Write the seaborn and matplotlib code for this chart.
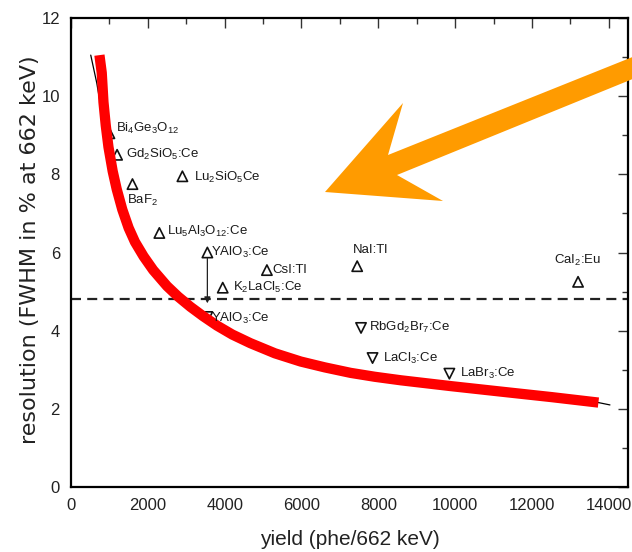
import matplotlib
matplotlib.use("Agg")
import matplotlib.pyplot as plt
import seaborn as sns
import pandas as pd
from matplotlib.patches import Polygon

# ---------------- data ----------------
up_names = [r"Bi$_4$Ge$_3$O$_{12}$", r"Gd$_2$SiO$_5$:Ce", r"Lu$_2$SiO$_5$Ce", r"BaF$_2$",
            r"Lu$_5$Al$_3$O$_{12}$:Ce", r"YAlO$_3$:Ce", r"CsI:Tl", r"K$_2$LaCl$_5$:Ce",
            r"NaI:Tl", r"CaI$_2$:Eu"]
up_yield = [1000, 1200, 2900, 1600, 2300, 3550, 5100, 3950, 7450, 13200]
up_res = [9.05, 8.5, 7.95, 7.75, 6.5, 6.0, 5.55, 5.1, 5.65, 5.25]

down_names = [r"YAlO$_3$:Ce", r"RbGd$_2$Br$_7$:Ce", r"LaCl$_3$:Ce", r"LaBr$_3$:Ce"]
down_yield = [3550, 7550, 7850, 9850]
down_res = [4.35, 4.07, 3.3, 2.9]

red_x = [740, 800, 845, 905, 975, 1085, 1190, 1335, 1500, 1665, 1890, 2140, 2500, 2790,
         3110, 3440, 3800, 4200, 4670, 5310, 5980, 6610, 7280, 7910, 8590, 9900, 11200,
         12510, 13730]
red_y = [11.05, 10.6, 9.85, 9.25, 8.7, 8.08, 7.62, 7.1, 6.63, 6.27, 5.9, 5.55, 5.14, 4.87,
         4.61, 4.37, 4.13, 3.9, 3.68, 3.42, 3.21, 3.06, 2.92, 2.82, 2.73, 2.58, 2.44,
         2.30, 2.16]

fit_x = [514, 670, 850, 1100, 1500, 1890, 2500, 3110, 3800, 4670, 5980, 7280, 8590, 9900,
         11200, 12510, 13730, 14030]
fit_y = [11.05, 10.34, 9.3, 8.0, 6.63, 5.9, 5.14, 4.61, 4.13, 3.68, 3.21, 2.92, 2.73, 2.58,
         2.44, 2.30, 2.16, 2.10]

threshold = 4.8
x_ticks = [0, 2000, 4000, 6000, 8000, 10000, 12000, 14000]
y_ticks = [0, 2, 4, 6, 8, 10, 12]

# label offsets in pixels (dx, dy, ha)
up_offsets = [(7, 5, "left"), (9, 0, "left"), (12, -1, "left"), (-5, -16, "left"),
              (8, 2, "left"), (4, 0, "left"), (5, 0, "left"), (10, 0, "left"),
              (-4, 16, "left"), (0, 21, "center")]
down_offsets = [(4, -1, "left"), (8, 0, "left"), (10, 0, "left"), (11, 0, "left")]

# ---------------- style ----------------
sns.set_style("white")
plt.rcParams["font.family"] = ["Liberation Sans", "DejaVu Sans"]
plt.rcParams["mathtext.default"] = "regular"

W, H = 632, 552
fig = plt.figure(figsize=(W / 100, H / 100), dpi=100)
ax = fig.add_axes([71 / W, 1 - 487 / H, (628 - 71) / W, (487 - 18) / H])

up_df = pd.DataFrame({"yield": up_yield, "res": up_res})
down_df = pd.DataFrame({"yield": down_yield, "res": down_res})
fit_df = pd.DataFrame({"yield": fit_x, "res": fit_y})
red_df = pd.DataFrame({"yield": red_x, "res": red_y})

ax.axhline(threshold, color="#222222", lw=1.6, dashes=(4.5, 2.8), zorder=1)

sns.lineplot(data=fit_df, x="yield", y="res", sort=False, color="black", lw=0.9, ax=ax,
             zorder=2)
sns.scatterplot(data=up_df, x="yield", y="res", marker="^", s=55, fc="none", ec="#111111",
                linewidth=1.2, ax=ax, zorder=3)
sns.scatterplot(data=down_df, x="yield", y="res", marker="v", s=55, fc="none", ec="#111111",
                linewidth=1.2, ax=ax, zorder=3)
sns.lineplot(data=red_df, x="yield", y="res", sort=False, color="#ff0000", lw=7.4, ax=ax,
             zorder=4, solid_capstyle="butt", solid_joinstyle="round")

ann_font = dict(fontsize=9.5, color="#1a1a1a")
for name, x, y, (dx, dy, ha) in zip(up_names, up_yield, up_res, up_offsets):
    ax.annotate(name, (x, y), xytext=(dx, dy), textcoords="offset pixels", ha=ha,
                va="center", zorder=5, **ann_font)
for name, x, y, (dx, dy, ha) in zip(down_names, down_yield, down_res, down_offsets):
    ax.annotate(name, (x, y), xytext=(dx, dy), textcoords="offset pixels", ha=ha,
                va="center", zorder=5, **ann_font)

ax.annotate("", xy=(3550, 4.7), xytext=(3550, 5.85),
            arrowprops=dict(arrowstyle="-|>", color="#222222", lw=0.9, mutation_scale=9,
                            shrinkA=0, shrinkB=0), zorder=5)

ax.set_xlim(0, 14500)
ax.set_ylim(0, 12)
ax.set_xticks(x_ticks)
ax.set_yticks(y_ticks)
ax.set_xticks(range(1000, 14500, 2000), minor=True)
ax.set_yticks([1, 3, 5, 7, 9, 11], minor=True)
for lab in ax.get_xticklabels() + ax.get_yticklabels():
    lab.set_fontsize(12)
    lab.set_color("#222222")
ax.tick_params(which="both", direction="in", top=True, right=True, width=1.0, color="#333333")
ax.tick_params(which="major", length=7, pad=8)
ax.tick_params(which="minor", length=4)
for s in ax.spines.values():
    s.set_linewidth(1.6)
    s.set_color("black")

ax.set_xlabel("yield (phe/662 keV)", fontsize=15, color="#222222", labelpad=12)
ax.set_ylabel("")
fig.text(30 / W, 1 - 250 / H, "resolution (FWHM in % at 662 keV)", rotation=90,
         ha="center", va="center", fontsize=16, color="#222222",
         family=["DejaVu Sans"])

# orange pointer arrow (figure pixel coordinates)
arrow_px = [(325, 192), (403, 103), (388, 155), (640, 54), (640, 76), (397, 175), (443, 201)]
poly = Polygon([(px / W, 1 - py / H) for px, py in arrow_px], closed=True,
               transform=fig.transFigure, facecolor="#ff9b00", edgecolor="none", zorder=10)
fig.add_artist(poly)

fig.savefig("out.png", dpi=100)
